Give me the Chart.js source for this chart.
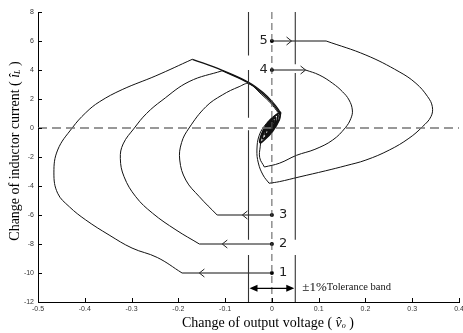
<!DOCTYPE html>
<html>
<head>
<meta charset="utf-8">
<script src="https://cdn.jsdelivr.net/npm/chart.js@4.4.1/dist/chart.umd.min.js"></script>
<style>
  html, body { margin: 0; padding: 0; background: #fff; }
  #wrap { width: 463px; height: 333px; }
</style>
</head>
<body>
<div id="wrap"><canvas id="c" width="463" height="333"></canvas></div>
<script>
// ── axes ───────────────────────────────────────────
const xTicks = [-0.5, -0.4, -0.3, -0.2, -0.1, 0, 0.1, 0.2, 0.3, 0.4];
const yTicks = [-12, -10, -8, -6, -4, -2, 0, 2, 4, 6, 8];

// ── start points of the five transients (on v = 0) ─
const startLabels = ['1', '2', '3', '4', '5'];
const startY      = [-10, -8, -6, 4, 6];
const arrowX      = [-0.155, -0.106, -0.063, 0.072, 0.042];

// ── ±1% tolerance band ─────────────────────────────
const bandX        = [-0.05, 0.05];
const bandSegLeft  = [[8, 5.0], [4.0, 0.7], [-0.15, -7.7], [-8.75, -12]];
const bandSegRight = [[8, 4.4], [3.8, -7.7], [-8.75, -12]];
const bandArrowY   = -11.06;

// ── trajectories [v, i] ────────────────────────────
const t1Flat = [[0, -10], [-0.192, -10]];
const t1Arc  = [[-0.192, -10], [-0.245, -8.93], [-0.299, -8.28], [-0.348, -7.38], [-0.398, -6.34],
                [-0.433, -5.43], [-0.458, -4.5], [-0.466, -3.1], [-0.458, -1.52], [-0.427, 0],
                [-0.398, 1.05], [-0.369, 1.8], [-0.32, 2.65], [-0.248, 3.6], [-0.17, 4.74]];
const t1Tail = [[-0.17, 4.74], [-0.106, 3.98], [-0.049, 3.14], [-0.019, 2.44], [0.003, 1.73],
                [0.014, 1.26], [0.019, 0.95]];

const t2Flat = [[0, -8], [-0.155, -8]];
const t2Arc  = [[-0.155, -8], [-0.205, -7.03], [-0.255, -5.88], [-0.291, -4.74], [-0.316, -3.36],
                [-0.324, -2.1], [-0.318, -1.1], [-0.294, 0], [-0.268, 1.0], [-0.235, 1.9],
                [-0.177, 3.2], [-0.106, 3.95]];
const t2Tail = [[-0.106, 3.95], [-0.049, 3.09], [-0.021, 2.39], [0.001, 1.7], [0.012, 1.23],
                [0.018, 0.93]];

const t3Flat = [[0, -6], [-0.117, -6]];
const t3Arc  = [[-0.117, -6], [-0.155, -4.74], [-0.184, -3.59], [-0.197, -2.21], [-0.193, -1.0],
                [-0.177, 0], [-0.141, 1.47], [-0.106, 2.28], [-0.07, 2.85], [-0.049, 3.05],
                [-0.023, 2.34], [-0.001, 1.66], [0.01, 1.2], [0.017, 0.9]];

const t4Flat = [[0, 4], [0.072, 4]];
const t4Arc  = [[0.072, 4], [0.101, 3.66], [0.13, 3.08], [0.151, 2.5], [0.165, 1.93], [0.172, 1.24],
                [0.169, 0.67], [0.157, 0.02], [0.13, -0.83], [0.092, -1.47], [0.053, -1.88],
                [0.016, -2.43], [-0.016, -2.69]];
const t4Back = [[-0.016, -2.69], [-0.026, -2.05], [-0.025, -1.3], [-0.02, -0.3], [-0.006, 0.43],
                [0.012, 0.95], [0.019, 1.1]];

const t5Flat = [[0, 6], [0.116, 6]];
const t5Arc  = [[0.116, 6], [0.201, 5.03], [0.272, 3.88], [0.308, 3.08], [0.333, 2.16], [0.343, 1.47],
                [0.34, 0.78], [0.322, 0.09], [0.293, -0.71], [0.251, -1.52], [0.201, -2.21],
                [0.158, -2.6], [0.115, -2.95], [0.058, -3.38], [0.016, -3.7], [-0.006, -3.81]];
const t5Back = [[-0.006, -3.81], [-0.019, -3.24], [-0.029, -2.41], [-0.032, -1.52], [-0.027, -0.5],
                [-0.012, 0.3], [0.008, 0.9], [0.019, 1.1]];

// settling spiral around the origin (shared by all)
const spiral = [[0.019, 1.1], [0.016, 0.55], [0.001, -0.26], [-0.019, -0.92], [-0.025, -1.02],
                [-0.024, -0.7], [-0.019, -0.26], [-0.006, 0.43], [0.012, 0.95],
                [0.0135, 0.84], [0.011, 0.425], [0, -0.18], [-0.015, -0.68], [-0.0195, -0.75],
                [-0.019, -0.51], [-0.015, -0.18], [-0.005, 0.335], [0.008, 0.725],
                [0.008, 0.575], [0.0065, 0.3], [-0.001, -0.105], [-0.011, -0.435], [-0.014, -0.485],
                [-0.0135, -0.325], [-0.011, -0.105], [-0.0045, 0.24], [0.0045, 0.5],
                [0.0025, 0.31], [0.002, 0.175], [-0.002, -0.03], [-0.007, -0.19], [-0.0085, -0.22],
                [-0.008, -0.14], [-0.007, -0.03], [-0.004, 0.145], [0, 0.275], [-0.003, 0.05]];

const pts = arr => arr.map(([x, y]) => ({ x, y }));

function curve(arr, tension, width) {
  return {
    data: pts(arr), showLine: true, pointRadius: 0, borderColor: '#111',
    borderWidth: width || 1, tension: tension, fill: false
  };
}

function refLine(arr, color, width, dash) {
  return {
    data: pts(arr), showLine: true, pointRadius: 0, borderColor: color,
    borderWidth: width, borderDash: dash || [], tension: 0, spanGaps: false
  };
}

const datasets = [];
// zero lines
datasets.push(refLine([[-0.5, 0], [0.4, 0]], '#777', 1.6, [9, 5]));
datasets.push(refLine([[0, 8], [0, -12]], '#555', 1, [7, 4]));
// band lines, drawn as separate dashes
bandSegLeft.forEach(s => datasets.push(refLine([[bandX[0], s[0]], [bandX[0], s[1]]], '#333', 1.1)));
bandSegRight.forEach(s => datasets.push(refLine([[bandX[1], s[0]], [bandX[1], s[1]]], '#333', 1.1)));

// trajectories
[t1Flat, t2Flat, t3Flat, t4Flat, t5Flat].forEach(a => datasets.push(curve(a, 0)));
[t1Arc, t2Arc, t3Arc, t4Arc, t5Arc].forEach(a => datasets.push(curve(a, 0.4)));
[t1Tail, t2Tail].forEach(a => datasets.push(curve(a, 0.4, 1.3)));
[t4Back, t5Back].forEach(a => datasets.push(curve(a, 0.4)));
datasets.push(curve(spiral, 0.4, 1.3));
datasets.push(curve(spiral.map(([x, y]) => [x - 0.001, y + 0.02]), 0.4, 1.2));

// start dots
datasets.push({
  data: startY.map(y => ({ x: 0, y })), showLine: false, pointRadius: 2,
  pointBackgroundColor: '#000', pointBorderWidth: 0
});

function drawPieces(ctx, pieces, x, y) {
  let cx = x;
  pieces.forEach(p => {
    ctx.font = p.f;
    ctx.fillText(p.t, cx, y + (p.dy || 0));
    cx += ctx.measureText(p.t).width;
  });
  return cx - x;
}
function piecesWidth(ctx, pieces) {
  let w = 0;
  pieces.forEach(p => { ctx.font = p.f; w += ctx.measureText(p.t).width; });
  return w;
}

const serif = '"Liberation Serif", "Times New Roman", serif';

const overlay = {
  id: 'overlay',
  afterDraw(chart) {
    const { ctx, chartArea: a, scales: { x, y } } = chart;
    ctx.save();

    // inward ticks
    ctx.strokeStyle = '#000';
    ctx.lineWidth = 1;
    ctx.beginPath();
    xTicks.forEach(v => {
      const px = Math.round(x.getPixelForValue(v)) + 0.5;
      ctx.moveTo(px, a.bottom); ctx.lineTo(px, a.bottom - 4);
    });
    yTicks.forEach(v => {
      const py = Math.round(y.getPixelForValue(v)) + 0.5;
      ctx.moveTo(a.left, py); ctx.lineTo(a.left + 4, py);
    });
    ctx.stroke();

    // direction chevrons
    ctx.strokeStyle = '#222';
    ctx.lineWidth = 1;
    arrowX.forEach((v, i) => {
      const px = x.getPixelForValue(v), py = y.getPixelForValue(startY[i]);
      const d = v < 0 ? 1 : -1;
      ctx.beginPath();
      ctx.moveTo(px + d * 5, py - 4);
      ctx.lineTo(px, py);
      ctx.lineTo(px + d * 5, py + 4);
      ctx.stroke();
    });

    // start labels
    ctx.fillStyle = '#222';
    ctx.font = '13px "DejaVu Sans", sans-serif';
    ctx.textBaseline = 'middle';
    startLabels.forEach((t, i) => {
      const px = x.getPixelForValue(0), py = y.getPixelForValue(startY[i]);
      if (startY[i] < 0) { ctx.textAlign = 'left'; ctx.fillText(t, px + 7, py); }
      else { ctx.textAlign = 'right'; ctx.fillText(t, px - 4, py); }
    });

    // tolerance double arrow
    const ax0 = x.getPixelForValue(bandX[0]), ax1 = x.getPixelForValue(bandX[1]);
    const ay = y.getPixelForValue(bandArrowY);
    ctx.strokeStyle = '#000';
    ctx.fillStyle = '#000';
    ctx.lineWidth = 1.3;
    ctx.beginPath(); ctx.moveTo(ax0 + 4, ay); ctx.lineTo(ax1 - 4, ay); ctx.stroke();
    ctx.beginPath();
    ctx.moveTo(ax0 + 1, ay); ctx.lineTo(ax0 + 9, ay - 3.5); ctx.lineTo(ax0 + 9, ay + 3.5); ctx.closePath();
    ctx.moveTo(ax1 - 1, ay); ctx.lineTo(ax1 - 9, ay - 3.5); ctx.lineTo(ax1 - 9, ay + 3.5); ctx.closePath();
    ctx.fill();

    ctx.textAlign = 'left';
    ctx.fillStyle = '#111';
    drawPieces(ctx, [
      { t: '±1%', f: '13px ' + serif },
      { t: 'Tolerance band', f: '10.5px ' + serif }
    ], ax1 + 7, ay - 1);

    // axis titles
    ctx.fillStyle = '#000';
    const xt = [
      { t: 'Change of output voltage ( ', f: '14px ' + serif },
      { t: 'v\u0302', f: 'italic 14px ' + serif },
      { t: 'o', f: 'italic 8px ' + serif, dy: 3 },
      { t: ' )', f: '14px ' + serif }
    ];
    drawPieces(ctx, xt, 268 - piecesWidth(ctx, xt) / 2, 323);

    const yt = [
      { t: 'Change of inductor current ( ', f: '14px ' + serif },
      { t: '\u00EE', f: 'italic 14px ' + serif },
      { t: 'L', f: 'italic 8px ' + serif, dy: 3 },
      { t: ' )', f: '14px ' + serif }
    ];
    ctx.translate(15, 151);
    ctx.rotate(-Math.PI / 2);
    drawPieces(ctx, yt, -piecesWidth(ctx, yt) / 2, 0);

    ctx.restore();
  }
};

const tickFont = { size: 7, family: '"Liberation Sans", Arial, sans-serif' };

new Chart(document.getElementById('c'), {
  type: 'scatter',
  data: { datasets },
  options: {
    responsive: false, animation: false, devicePixelRatio: 1,
    layout: { padding: { top: 12, right: 4, left: 0, bottom: 0 } },
    plugins: { legend: { display: false }, tooltip: { enabled: false } },
    scales: {
      x: {
        type: 'linear', min: -0.5, max: 0.4,
        afterBuildTicks: s => { s.ticks = xTicks.map(v => ({ value: v })); },
        grid: { display: false, drawTicks: false },
        border: { display: true, color: '#000', width: 1 },
        ticks: { font: tickFont, color: '#333', padding: 3, maxRotation: 0, autoSkip: false,
                 callback: v => String(v) },
        afterFit: s => { s.height = 31; s.paddingLeft = 0; s.paddingRight = 0; }
      },
      y: {
        type: 'linear', min: -12, max: 8,
        afterBuildTicks: s => { s.ticks = yTicks.map(v => ({ value: v })); },
        grid: { display: false, drawTicks: false },
        border: { display: true, color: '#000', width: 1 },
        ticks: { font: tickFont, color: '#333', padding: 4, autoSkip: false,
                 callback: v => String(v) },
        afterFit: s => { s.width = 38; s.paddingTop = 0; s.paddingBottom = 0; }
      }
    }
  },
  plugins: [overlay]
});
</script>
</body>
</html>
